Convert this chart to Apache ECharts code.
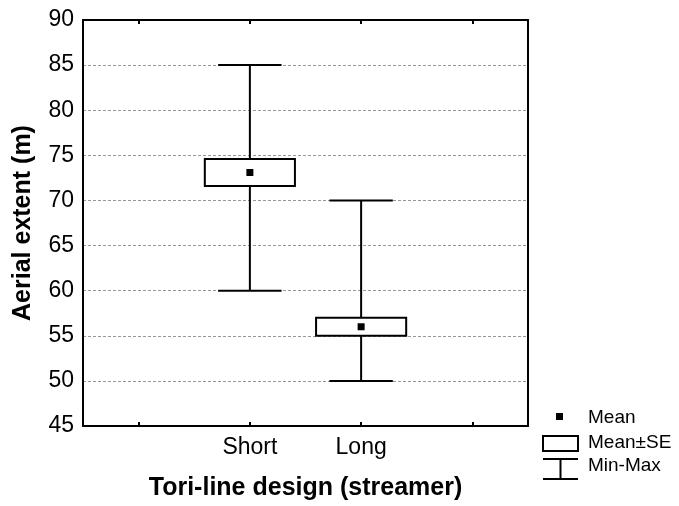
<!DOCTYPE html>
<html>
<head>
<meta charset="utf-8">
<script src="https://cdn.jsdelivr.net/npm/echarts@6/dist/echarts.min.js"></script>
<style>
html,body{margin:0;padding:0;background:#fff;}
#chart{width:679px;height:506px;}
</style>
</head>
<body>
<div id="chart"></div>
<script>
// categories (empty slots keep the two groups centred like the original)
var categories = ['', 'Short', 'Long', ''];
var groupIndex = [1, 2];
var means = [73.1, 56.0];
var seLow = [71.6, 55.0];
var seHigh = [74.6, 57.0];
var mins = [60, 50];
var maxs = [85, 70];
var yTicks = [45, 50, 55, 60, 65, 70, 75, 80, 85, 90];
var legendLabels = ['Mean', 'Mean±SE', 'Min-Max'];

var boxData = [];
for (var i = 0; i < groupIndex.length; i++) {
    boxData.push([groupIndex[i], mins[i], maxs[i], means[i], seLow[i], seHigh[i]]);
}

var font = 'Liberation Sans, Arial, sans-serif';

function renderBox(params, api) {
    var x = api.value(0);
    var pMin = api.coord([x, api.value(1)]);
    var pMax = api.coord([x, api.value(2)]);
    var pMean = api.coord([x, api.value(3)]);
    var pLo = api.coord([x, api.value(4)]);
    var pHi = api.coord([x, api.value(5)]);
    var band = api.size([1, 0])[0];
    var boxHalf = band * 0.405;
    var capHalf = band * 0.285;
    var cx = pMean[0];
    var line = {stroke: '#000', lineWidth: 2};
    return {
        type: 'group',
        children: [
            {type: 'line', shape: {x1: cx, y1: pMax[1], x2: cx, y2: pHi[1]}, style: line},
            {type: 'line', shape: {x1: cx, y1: pLo[1], x2: cx, y2: pMin[1]}, style: line},
            {type: 'line', shape: {x1: cx - capHalf, y1: pMax[1], x2: cx + capHalf, y2: pMax[1]}, style: line},
            {type: 'line', shape: {x1: cx - capHalf, y1: pMin[1], x2: cx + capHalf, y2: pMin[1]}, style: line},
            {type: 'rect', shape: {x: cx - boxHalf, y: pHi[1], width: boxHalf * 2, height: pLo[1] - pHi[1]},
                style: {fill: '#fff', stroke: '#000', lineWidth: 2}},
            {type: 'rect', shape: {x: cx - 3.5, y: pMean[1] - 3.5, width: 7, height: 7}, style: {fill: '#000'}}
        ]
    };
}

var tickStyle = {show: true, interval: 0, alignWithLabel: true, inside: true, length: 4, lineStyle: {color: '#000', width: 2}};

var chart = echarts.init(document.getElementById('chart'));
chart.setOption({
    animation: false,
    backgroundColor: '#fff',
    grid: {left: 83, top: 20, right: 151, bottom: 80},
    xAxis: [{
        type: 'category',
        data: categories,
        boundaryGap: true,
        name: 'Tori-line design (streamer)',
        nameLocation: 'middle',
        nameGap: 50,
        nameTextStyle: {fontFamily: font, fontSize: 25, fontWeight: 'bold', color: '#000'},
        axisLine: {lineStyle: {color: '#000', width: 2}},
        axisTick: tickStyle,
        axisLabel: {fontFamily: font, fontSize: 23, color: '#000', margin: 10, interval: 0},
        splitLine: {show: false}
    }, {
        type: 'category',
        data: categories,
        position: 'top',
        boundaryGap: true,
        axisLine: {lineStyle: {color: '#000', width: 2}},
        axisTick: tickStyle,
        axisLabel: {show: false}
    }],
    yAxis: [{
        type: 'value',
        min: yTicks[0],
        max: yTicks[yTicks.length - 1],
        interval: 5,
        name: 'Aerial extent (m)',
        nameLocation: 'middle',
        nameGap: 47,
        nameTextStyle: {fontFamily: font, fontSize: 25, fontWeight: 'bold', color: '#000'},
        axisLine: {show: true, lineStyle: {color: '#000', width: 2}},
        axisTick: {show: false},
        axisLabel: {fontFamily: font, fontSize: 23, color: '#000', margin: 9},
        splitLine: {show: true, lineStyle: {color: '#999', type: [3, 2], width: 1}}
    }, {
        type: 'value',
        position: 'right',
        min: yTicks[0],
        max: yTicks[yTicks.length - 1],
        interval: 5,
        axisLine: {show: true, lineStyle: {color: '#000', width: 2}},
        axisTick: {show: false},
        axisLabel: {show: false},
        splitLine: {show: false}
    }],
    series: [{
        type: 'custom',
        renderItem: renderBox,
        data: boxData,
        encode: {x: 0, y: [1, 2, 3, 4, 5]},
        z: 5
    }],
    // legend drawn by hand (icons are not data marks)
    graphic: [
        {type: 'rect', shape: {x: 556, y: 413, width: 7, height: 7}, style: {fill: '#000'}},
        {type: 'text', x: 588, y: 418, style: {text: legendLabels[0], font: '19px ' + font, fill: '#000', verticalAlign: 'middle'}},
        {type: 'rect', shape: {x: 543, y: 436, width: 35, height: 15}, style: {fill: '#fff', stroke: '#000', lineWidth: 2}},
        {type: 'text', x: 588, y: 443, style: {text: legendLabels[1], font: '19px ' + font, fill: '#000', verticalAlign: 'middle'}},
        {type: 'line', shape: {x1: 543, y1: 459, x2: 578, y2: 459}, style: {stroke: '#000', lineWidth: 2}},
        {type: 'line', shape: {x1: 560.5, y1: 459, x2: 560.5, y2: 479}, style: {stroke: '#000', lineWidth: 2}},
        {type: 'line', shape: {x1: 543, y1: 479, x2: 578, y2: 479}, style: {stroke: '#000', lineWidth: 2}},
        {type: 'text', x: 588, y: 466, style: {text: legendLabels[2], font: '19px ' + font, fill: '#000', verticalAlign: 'middle'}}
    ]
});
</script>
</body>
</html>
